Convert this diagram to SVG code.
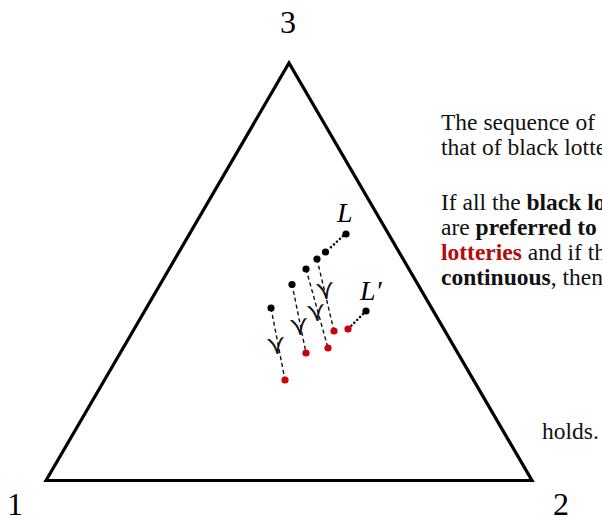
<svg xmlns="http://www.w3.org/2000/svg" width="602" height="518" viewBox="0 0 602 518">
<style>
.lbl{font-family:"Liberation Serif","Times New Roman",serif;font-size:32px;fill:#000}
.it{font-family:"Liberation Serif","Times New Roman",serif;font-style:italic;font-size:28px;fill:#000}
.txt{font-family:"Liberation Serif","Times New Roman",serif;font-size:23.5px;fill:#111}
.b{font-weight:bold}
.red{fill:#b50a0a}
.succ{font-family:"DejaVu Serif","DejaVu Sans",serif;font-size:25px;fill:#111}
.dash{stroke:#111;stroke-width:1.4;stroke-dasharray:4 3;fill:none}
.dot{stroke:#111;stroke-width:2.6;stroke-dasharray:0.1 4;stroke-linecap:round;fill:none}
.bk{fill:#000}
.rd{fill:#c8000a}
</style>
<g id="simplex">
<path d="M46,480.5 L289,63 L532,480.5 Z" fill="none" stroke="#000" stroke-width="3.2" stroke-linejoin="miter"/>
</g>
<g id="vertex-labels">
<text class="lbl" x="288" y="33" text-anchor="middle">3</text>
<text class="lbl" x="15" y="515" text-anchor="middle">1</text>
<text class="lbl" x="561" y="515" text-anchor="middle">2</text>
</g>
<g id="connectors">
<path class="dot" d="M343,236 L329,249"/>
<path class="dot" d="M363,314 L351,326"/>
<path class="dash" d="M317,259 L334,331"/>
<path class="dash" d="M306,269 L328,348"/>
<path class="dash" d="M292,284 L306,353"/>
<path class="dash" d="M271,308 L285,380"/>
</g>
<g id="succ-symbols">
<text class="succ" text-anchor="middle" dominant-baseline="central" transform="translate(326,291) rotate(82)">≻</text>
<text class="succ" text-anchor="middle" dominant-baseline="central" transform="translate(317,313) rotate(82)">≻</text>
<text class="succ" text-anchor="middle" dominant-baseline="central" transform="translate(300,327) rotate(82)">≻</text>
<text class="succ" text-anchor="middle" dominant-baseline="central" transform="translate(277,346) rotate(82)">≻</text>
</g>
<g id="black-lotteries">
<circle class="bk" cx="346" cy="234" r="3.6"/>
<circle class="bk" cx="325.5" cy="252" r="3.6"/>
<circle class="bk" cx="317" cy="259" r="3.6"/>
<circle class="bk" cx="306" cy="269" r="3.6"/>
<circle class="bk" cx="292" cy="284.5" r="3.6"/>
<circle class="bk" cx="271" cy="308" r="3.6"/>
<circle class="bk" cx="366" cy="311" r="3.6"/>
</g>
<g id="red-lotteries">
<circle class="rd" cx="348" cy="329" r="3.6"/>
<circle class="rd" cx="334" cy="331" r="3.6"/>
<circle class="rd" cx="328" cy="348" r="3.6"/>
<circle class="rd" cx="306" cy="353" r="3.6"/>
<circle class="rd" cx="285" cy="380" r="3.6"/>
</g>
<g id="point-labels">
<text class="it" x="337" y="222">L</text>
<text class="it" x="360" y="300">L′</text>
</g>
<g id="caption">
<text class="txt" x="441" y="130">The sequence of</text>
<text class="txt" x="441" y="155">that of black lotte</text>
<text class="txt" x="441" y="210">If all the <tspan class="b">black lo</tspan></text>
<text class="txt" x="441" y="235">are <tspan class="b">preferred to</tspan></text>
<text class="txt" x="441" y="260"><tspan class="b red">lotteries</tspan> and if th</text>
<text class="txt" x="441" y="285"><tspan class="b">continuous</tspan>, then</text>
<text class="txt" x="542" y="439">holds.</text>
</g>
</svg>
